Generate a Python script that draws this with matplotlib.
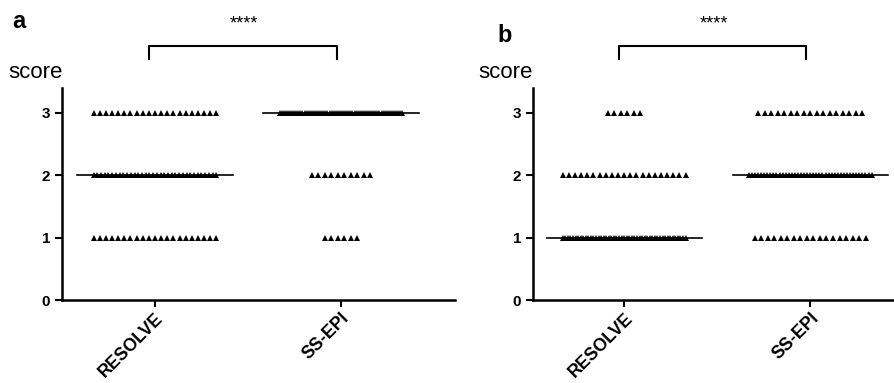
# Scatter dot plots of scores (RESOLVE vs SS-EPI), two panels, with median lines.

import matplotlib

matplotlib.use("Agg")
import matplotlib.pyplot as plt
import numpy as np

plt.rcParams["font.family"] = ["Liberation Sans", "DejaVu Sans"]

groups = ["RESOLVE", "SS-EPI"]
scores = [1, 2, 3]

# counts of cases per score (1, 2, 3) for each group
counts_a = {"RESOLVE": [21, 34, 21], "SS-EPI": [6, 10, 60]}
counts_b = {"RESOLVE": [49, 21, 6], "SS-EPI": [18, 41, 17]}
medians_a = {"RESOLVE": 2, "SS-EPI": 3}
medians_b = {"RESOLVE": 1, "SS-EPI": 2}
sig_label = "****"


def draw_panel(ax, counts, medians, xlim):
    for gi, g in enumerate(groups):
        for s, n in zip(scores, counts[g]):
            if n == 0:
                continue
            step = min(0.035, 0.66 / max(n - 1, 1))
            xs = gi + (np.arange(n) - (n - 1) / 2) * step
            ax.plot(xs, np.full(n, s), linestyle="none", marker="^",
                    markersize=4.0, color="black", markeredgewidth=0)
        ax.plot([gi - 0.417, gi + 0.417], [medians[g]] * 2, color="black",
                lw=1.2, zorder=3)

    ax.set_xlim(*xlim)
    ax.set_ylim(0, 3.4)
    ax.set_yticks([0, 1, 2, 3])
    ax.set_yticklabels(["0", "1", "2", "3"], fontweight="bold", fontsize=11)
    ax.set_xticks([0, 1])
    ax.set_xticklabels(groups, rotation=45, ha="right", rotation_mode="anchor",
                       fontweight="bold", fontsize=12.8)
    for side in ("top", "right"):
        ax.spines[side].set_visible(False)
    for side in ("left", "bottom"):
        ax.spines[side].set_linewidth(1.8)
    ax.tick_params(axis="both", width=1.5, length=5, direction="out")
    ax.tick_params(axis="x", pad=2)

    # significance bracket
    ax.plot([-0.03, -0.03, 0.98, 0.98], [3.87, 4.08, 4.08, 3.87], color="black",
            lw=1.5, clip_on=False)
    ax.text(0.48, 4.43, sig_label, ha="center", va="center", fontsize=13)


fig = plt.figure(figsize=(8.94, 3.83), dpi=100)
ax_a = fig.add_axes([62 / 894, 1 - 300 / 383, (455 - 62) / 894, (300 - 88) / 383])
ax_b = fig.add_axes([533 / 894, 1 - 300 / 383, (893 - 533) / 894, (300 - 88) / 383])

draw_panel(ax_a, counts_a, medians_a, (-0.5, 1.613))
draw_panel(ax_b, counts_b, medians_b, (-0.49, 1.445))

fig.text(8 / 894, 1 - 72 / 383, "score", fontsize=16, va="center")
fig.text(478 / 894, 1 - 72 / 383, "score", fontsize=16, va="center")
fig.text(12 / 894, 1 - 21 / 383, "a", fontsize=17, fontweight="bold", va="center")
fig.text(497 / 894, 1 - 35 / 383, "b", fontsize=17, fontweight="bold", va="center")

fig.savefig("out.png", dpi=100)
